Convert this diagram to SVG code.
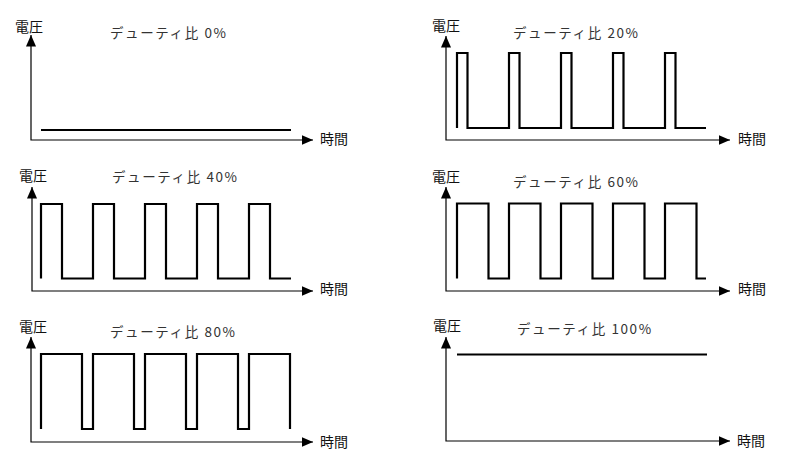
<svg xmlns="http://www.w3.org/2000/svg" width="790" height="474" viewBox="0 0 790 474">
<defs>
<marker id="arr" markerUnits="userSpaceOnUse" markerWidth="12" markerHeight="10" refX="11.5" refY="5" orient="auto-start-reverse">
<path d="M0,0 L11.5,5 L0,10 Z" fill="#000"/>
</marker>
<style>
.axis{fill:none;stroke:#000;stroke-width:1.2;marker-start:url(#arr);marker-end:url(#arr)}
.sig{fill:none;stroke:#000;stroke-width:2.2;stroke-linejoin:miter;stroke-linecap:butt}
.lab{font-family:"Noto Sans CJK JP","Noto Sans",sans-serif;font-size:14px;fill:#111}
.ttl{font-family:"Noto Sans CJK JP","Noto Sans",sans-serif;font-size:13.5px;fill:#333;letter-spacing:1.6px}
</style>
</defs>
<rect width="790" height="474" fill="#fff"/>
<g id="duty0">
<polyline class="axis" points="31,35 31,140 313,140"/>
<path class="sig" d="M41,130 H291"/>
<text class="lab" x="15" y="32">電圧</text>
<text class="lab" x="320" y="144">時間</text>
<text class="ttl" x="110" y="38">デューティ比 0%</text>
</g>
<g id="duty20">
<polyline class="axis" points="446,36 446,140 730,140"/>
<path class="sig" d="M457,128 V53 H467.5 V128 H509 V53 H519.5 V128 H561 V53 H571.5 V128 H613 V53 H623.5 V128 H665 V53 H675.5 V128 H706"/>
<text class="lab" x="432" y="31">電圧</text>
<text class="lab" x="738" y="144">時間</text>
<text class="ttl" x="513" y="38">デューティ比 20%</text>
</g>
<g id="duty40">
<polyline class="axis" points="32,187 32,291 313,291"/>
<path class="sig" d="M41,278.5 V204 H62 V278.5 H93 V204 H114 V278.5 H145 V204 H166 V278.5 H197 V204 H218 V278.5 H249 V204 H270 V278.5 H291"/>
<text class="lab" x="19" y="181">電圧</text>
<text class="lab" x="320" y="294">時間</text>
<text class="ttl" x="112" y="182">デューティ比 40%</text>
</g>
<g id="duty60">
<polyline class="axis" points="446,187 446,291 730,291"/>
<path class="sig" d="M457,278.5 V203.5 H488.5 V278.5 H509 V203.5 H540.5 V278.5 H561 V203.5 H592.5 V278.5 H613 V203.5 H644.5 V278.5 H665 V203.5 H696.5 V278.5 H706"/>
<text class="lab" x="432" y="182">電圧</text>
<text class="lab" x="738" y="294">時間</text>
<text class="ttl" x="513" y="187">デューティ比 60%</text>
</g>
<g id="duty80">
<polyline class="axis" points="31,337 31,442 313,442"/>
<path class="sig" d="M41,429 V354 H82 V429 H93 V354 H134 V429 H145 V354 H186 V429 H197 V354 H238 V429 H249 V354 H290 V429"/>
<text class="lab" x="19" y="332">電圧</text>
<text class="lab" x="320" y="447">時間</text>
<text class="ttl" x="110" y="337">デューティ比 80%</text>
</g>
<g id="duty100">
<polyline class="axis" points="446,337 446,441 730,441"/>
<path class="sig" d="M457,354.5 H707"/>
<text class="lab" x="433" y="331">電圧</text>
<text class="lab" x="737" y="446">時間</text>
<text class="ttl" x="517" y="334">デューティ比 100%</text>
</g>
</svg>
